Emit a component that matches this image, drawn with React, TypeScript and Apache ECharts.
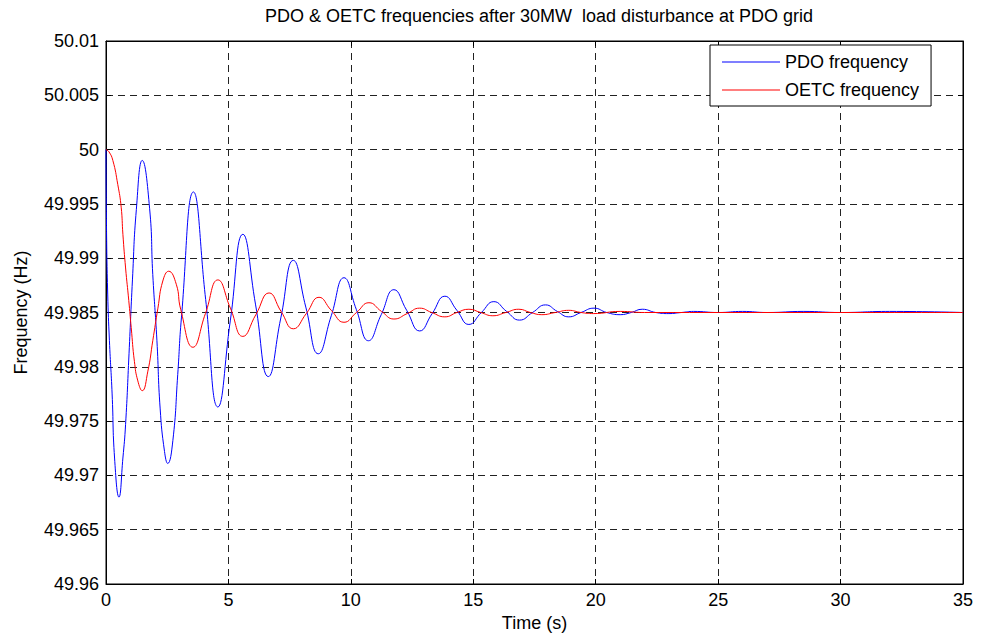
import React, { useEffect, useRef } from "react";
import * as echarts from "echarts";

const titleText = "PDO & OETC frequencies after 30MW  load disturbance at PDO grid";
const xName = "Time (s)";
const yName = "Frequency (Hz)";
const seriesNames = ["PDO frequency", "OETC frequency"];

const pdoTime = [0, 0.02, 0.07, 0.14, 0.25, 0.35, 0.53, 0.69, 0.8, 0.94, 1.08, 1.24, 1.48, 1.78, 1.91, 2.08, 2.21, 2.39, 2.52, 2.73, 2.93, 3.08, 3.57, 4.07, 4.57, 5.08, 5.59, 6.11, 6.63, 7.14, 7.65, 8.16, 8.67, 9.2, 9.72, 10.22, 10.72, 11.24, 11.76, 12.28, 12.81, 13.32, 13.84, 14.33, 14.82, 15.33, 15.84, 16.36, 16.89, 17.42, 17.95, 18.43, 18.9, 19.4, 19.93, 20.45, 21.0, 21.45, 21.9, 22.45, 22.99, 23.5, 24.0, 25.0, 26.0, 27.0, 28.5, 30.0, 32.0, 35.0];
const pdoFreq = [50.0, 49.993, 49.9867, 49.9824, 49.9775, 49.9716, 49.968, 49.9716, 49.9747, 49.9812, 49.988, 49.9945, 49.999, 49.9946, 49.9885, 49.9824, 49.9762, 49.9722, 49.9711, 49.9732, 49.9793, 49.9845, 49.9961, 49.9862, 49.9763, 49.9843, 49.9922, 49.9857, 49.9791, 49.9845, 49.9898, 49.9855, 49.9812, 49.9847, 49.9882, 49.9853, 49.9824, 49.9848, 49.9871, 49.9852, 49.9833, 49.9849, 49.9865, 49.9852, 49.9839, 49.985, 49.986, 49.9851, 49.9843, 49.985, 49.9857, 49.9851, 49.9846, 49.985, 49.9854, 49.985, 49.9848, 49.985, 49.9853, 49.985, 49.9849, 49.985, 49.9851, 49.985, 49.9851, 49.985, 49.9851, 49.985, 49.9851, 49.985];

const oetcTime = [0, 0.12, 0.28, 0.48, 0.62, 0.69, 0.8, 0.93, 1.03, 1.16, 1.3, 1.48, 1.71, 1.91, 2.12, 2.32, 2.56, 2.87, 3.05, 3.55, 4.06, 4.57, 5.08, 5.59, 6.12, 6.66, 7.15, 7.65, 8.18, 8.7, 9.2, 9.72, 10.23, 10.74, 11.25, 11.76, 12.3, 12.81, 13.3, 13.84, 14.33, 14.82, 15.3, 15.8, 16.33, 16.86, 17.33, 17.8, 18.35, 18.9, 19.4, 19.9, 21.0, 22.0, 35.0];
const oetcFreq = [50.0, 49.9998, 49.999, 49.9968, 49.9947, 49.9922, 49.9891, 49.9861, 49.9836, 49.9805, 49.9787, 49.9778, 49.9796, 49.9824, 49.9854, 49.9879, 49.9888, 49.9876, 49.9853, 49.9818, 49.9849, 49.988, 49.9854, 49.9828, 49.9848, 49.9868, 49.9851, 49.9835, 49.9849, 49.9864, 49.9852, 49.9841, 49.985, 49.9859, 49.9851, 49.9844, 49.9849, 49.9854, 49.985, 49.9846, 49.985, 49.9853, 49.985, 49.9847, 49.985, 49.9853, 49.985, 49.9848, 49.985, 49.9852, 49.985, 49.9849, 49.9851, 49.985, 49.985];

const xMin = 0;
const xMax = 35;
const xStep = 5;
const yMin = 49.96;
const yMax = 50.01;
const yStep = 0.005;

const FONT = "Liberation Sans, Arial, Helvetica, sans-serif";

export default function App() {
  const ref = useRef<HTMLDivElement>(null);
  useEffect(() => {
    if (!ref.current) return;
    const chart = echarts.init(ref.current, null, { renderer: "svg" });
    const fmtY = (v: number) => String(Number(v.toFixed(3)));
    const gridLine = { show: true, lineStyle: { color: "#222", width: 1, type: [7, 5] as any } };
    const tick = { show: true, inside: true, length: 5, lineStyle: { color: "#000" } };
    const pairs = (xs: number[], ys: number[]) => xs.map((x, i) => [x, ys[i]]);
    chart.setOption({
      animation: false,
      backgroundColor: "#fff",
      textStyle: { fontFamily: FONT },
      title: {
        text: titleText,
        left: 534,
        textAlign: "center",
        top: 2,
        textStyle: { fontFamily: FONT, fontSize: 18, fontWeight: "normal", color: "#000" },
      },
      legend: {
        left: 710,
        top: 45,
        orient: "vertical",
        backgroundColor: "#fff",
        borderColor: "#000",
        borderWidth: 1,
        borderRadius: 0,
        padding: [8, 12, 7, 12],
        icon: "rect",
        itemWidth: 58,
        itemHeight: 1,
        itemGap: 10,
        textStyle: { fontFamily: FONT, fontSize: 18, color: "#000", lineHeight: 18 },
        data: seriesNames,
      },
      grid: { left: 106, right: 18, top: 41, bottom: 54, show: true, borderColor: "#000", borderWidth: 1, backgroundColor: "transparent" },
      xAxis: [
        {
          type: "value",
          min: xMin,
          max: xMax,
          interval: xStep,
          name: xName,
          nameLocation: "middle",
          nameGap: 28,
          nameTextStyle: { fontFamily: FONT, fontSize: 18, color: "#000" },
          axisLine: { show: true, onZero: false, lineStyle: { color: "#000" } },
          axisTick: tick,
          axisLabel: { fontFamily: FONT, fontSize: 18, color: "#000", margin: 7 },
          splitLine: gridLine,
        },
        {
          type: "value",
          position: "top",
          min: xMin,
          max: xMax,
          interval: xStep,
          axisLine: { show: true, onZero: false, lineStyle: { color: "#000" } },
          axisTick: tick,
          axisLabel: { show: false },
          splitLine: { show: false },
        },
      ],
      yAxis: [
        {
          type: "value",
          min: yMin,
          max: yMax,
          interval: yStep,
          name: yName,
          nameLocation: "middle",
          nameGap: 76,
          nameTextStyle: { fontFamily: FONT, fontSize: 18, color: "#000" },
          axisLine: { show: true, onZero: false, lineStyle: { color: "#000" } },
          axisTick: tick,
          axisLabel: { fontFamily: FONT, fontSize: 18, color: "#000", margin: 7, formatter: fmtY },
          splitLine: gridLine,
        },
        {
          type: "value",
          position: "right",
          min: yMin,
          max: yMax,
          interval: yStep,
          axisLine: { show: true, onZero: false, lineStyle: { color: "#000" } },
          axisTick: tick,
          axisLabel: { show: false },
          splitLine: { show: false },
        },
      ],
      series: [
        {
          name: seriesNames[0],
          type: "line",
          data: pairs(pdoTime, pdoFreq),
          symbol: "none",
          smooth: 0.5,
          lineStyle: { color: "#0000ff", width: 1 },
          itemStyle: { color: "#0000ff" },
          z: 3,
        },
        {
          name: seriesNames[1],
          type: "line",
          data: pairs(oetcTime, oetcFreq),
          symbol: "none",
          smooth: 0.5,
          lineStyle: { color: "#ff0000", width: 1 },
          itemStyle: { color: "#ff0000" },
          z: 4,
        },
      ],
    });
    return () => chart.dispose();
  }, []);
  return <div ref={ref} style={{ position: "fixed", left: 0, top: 0, width: 981, height: 638 }} />;
}
